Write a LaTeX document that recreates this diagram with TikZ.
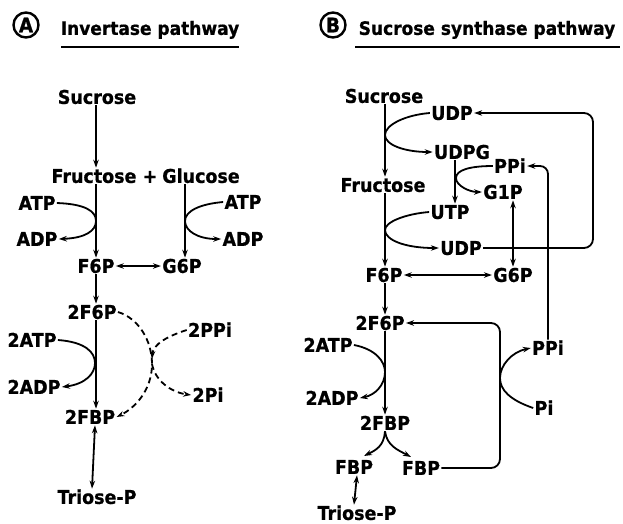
\documentclass[tikz,border=0pt]{standalone}
\usepackage{fontspec}
\setmainfont{DejaVu Sans}[BoldFeatures={FakeBold=0.8,FakeStretch=0.92}]
\usetikzlibrary{arrows.meta,calc}
\begin{document}
\begin{tikzpicture}[x=1pt,y=-1pt,
  lbl/.style={font=\bfseries\fontsize{19}{21}\selectfont, inner sep=1.2pt, text height=13.8pt, text depth=0pt},
  ttl/.style={lbl, font=\bfseries\fontsize{18.5}{21}\selectfont},
  circ/.style={circle, draw, line width=2.4pt, minimum size=25pt, inner sep=0pt, font=\bfseries\fontsize{20}{21}\selectfont},
  conn/.style={line width=1.8pt},
  arr/.style={conn,-{Stealth[length=8pt,width=5.5pt]}},
  darr/.style={conn,{Stealth[length=8pt,width=5.5pt]}-{Stealth[length=8pt,width=5.5pt]}},
  dsh/.style={arr, dash pattern=on 6pt off 4pt},
  uline/.style={line width=1.6pt}]
\useasboundingbox (0,0) rectangle (623,523);

% ---------------- Panel A ----------------
\node[circ] (cA) at (26,25) {A};
\node[ttl] (tA) at (150,28) {Invertase pathway};
\draw[uline] (61,47) -- (239,47);

\coordinate (xA) at (96,0);
\coordinate (xG) at (185,0);
\node[lbl] (sucA) at (97,97) {Sucrose};
\node[lbl] (fruA) at (94,176) {Fructose};
\node[lbl] (plusA) at (150,176) {+};
\node[lbl] (gluA) at (201,176) {Glucose};
\node[lbl] (atpA1) at (37,203) {ATP};
\node[lbl] (adpA1) at (37,239) {ADP};
\node[lbl] (atpA2) at (243,202) {ATP};
\node[lbl] (adpA2) at (243,239) {ADP};
\node[lbl] (f6pA) at (96,266) {F6P};
\node[lbl] (g6pA) at (182,266) {G6P};
\node[lbl] (2f6pA) at (92,312) {2F6P};
\node[lbl] (2atpA) at (32,340) {2ATP};
\node[lbl] (2adpA) at (34,387) {2ADP};
\node[lbl] (2fbpA) at (90,417) {2FBP};
\node[lbl] (2ppiA) at (210,330) {2PPi};
\node[lbl] (2piA) at (208,395) {2Pi};
\node[lbl] (trioseA) at (97,497) {Triose-P};
\coordinate (JA) at (152,364);

\draw[arr] (sucA.south -| xA) -- (fruA.north -| xA);
\draw[arr] (fruA.south -| xA) -- (f6pA.north -| xA);
\draw[arr] (gluA.south -| xG) -- (g6pA.north -| xG);
\draw[arr] (atpA1.east) .. controls (85,204) and (96,211) .. (96,221)
                         .. controls (96,231) and (85,238) .. (adpA1.east);
\draw[arr] (atpA2.west) .. controls (200,204) and (185,211) .. (185,221)
                         .. controls (185,231) and (198,239) .. (adpA2.west);
\draw[darr] (f6pA.east) -- (g6pA.west);
\draw[arr] (f6pA.south -| xA) -- (2f6pA.north -| xA);
\draw[arr] (2f6pA.south -| xA) -- (2fbpA.north -| xA);
\draw[arr] (2atpA.east) .. controls (85,342) and (95,352) .. (95,363)
                         .. controls (95,374) and (85,384) .. (2adpA.east);
\draw[dsh] (2f6pA.east) .. controls (138,318) and (152,340) .. (JA)
                         .. controls (152,390) and (135,408) .. (2fbpA.east);
\draw[dsh] (2ppiA.west) .. controls (168,336) and (153,344) .. (152,359);
\draw[dsh] (JA) .. controls (155,380) and (170,392) .. (2piA.west);
\draw[darr] ([xshift=5pt]2fbpA.south) -- ([xshift=-5pt]trioseA.north);

% ---------------- Panel B ----------------
\node[circ] (cB) at (333,25) {B};
\node[ttl] (tB) at (487,28) {Sucrose synthase pathway};
\draw[uline] (355,47) -- (620,47);

\coordinate (xB) at (385,0);
\coordinate (xU) at (455,0);
\node[lbl] (sucB) at (384,96) {Sucrose};
\node[lbl] (udp1) at (452,113) {UDP};
\node[lbl] (udpg) at (462,152) {UDPG};
\node[lbl] (ppi1) at (510,166) {PPi};
\node[lbl] (fruB) at (383,185) {Fructose};
\node[lbl] (g1p) at (503,192) {G1P};
\node[lbl] (utp) at (450,212) {UTP};
\node[lbl] (udp2) at (461,248) {UDP};
\node[lbl] (f6pB) at (384,275) {F6P};
\node[lbl] (g6pB) at (513,275) {G6P};
\node[lbl] (2f6pB) at (380,323) {2F6P};
\node[lbl] (2atpB) at (328,345) {2ATP};
\node[lbl] (ppi2) at (548,348) {PPi};
\node[lbl] (2adpB) at (332,398) {2ADP};
\node[lbl] (piB) at (544,408) {Pi};
\node[lbl] (2fbpB) at (385,423) {2FBP};
\node[lbl] (fbp1) at (354,467) {FBP};
\node[lbl] (fbp2) at (421,468) {FBP};
\node[lbl] (trioseB) at (357,513) {Triose-P};
\coordinate (rB) at (593,0);
\coordinate (rP) at (548,0);
\coordinate (rF) at (500,0);

\draw[arr] (sucB.south -| xB) -- (fruB.north -| xB);
\draw[arr] (udp1.west) .. controls (405,115) and (385,125) .. (385,135)
                        .. controls (385,145) and (405,152) .. (udpg.west);
\draw[arr] (udpg.south -| xU) -- (utp.north -| xU);
\draw[arr] (ppi1.west) .. controls (470,166) and (456,170) .. (456,178)
                        .. controls (456,186) and (470,192) .. (g1p.west);
\draw[arr] (fruB.south -| xB) -- (f6pB.north -| xB);
\draw[arr] (utp.west) .. controls (405,214) and (385,222) .. (385,230)
                       .. controls (385,240) and (405,248) .. (udp2.west);
\draw[arr, rounded corners=9pt] (udp2.east) -- (udp2.east -| rB) -- (udp1.east -| rB) -- (udp1.east);
\draw[arr, rounded corners=8pt] (ppi2.north -| rP) -- (ppi1.east -| rP) -- (ppi1.east);
\draw[darr] (g1p.south -| g6pB.north) -- (g6pB.north);
\draw[darr] (f6pB.east) -- (g6pB.west);
\draw[arr] (f6pB.south -| xB) -- (2f6pB.north -| xB);
\draw[arr] (2f6pB.south -| xB) -- (2fbpB.north -| xB);
\draw[arr] (2atpB.east) .. controls (375,349) and (385,361) .. (385,372)
                        .. controls (385,385) and (375,395) .. (2adpB.east);
\draw[arr, rounded corners=9pt] (fbp2.east) -- (fbp2.east -| rF) -- (2f6pB.east -| rF) -- (2f6pB.east);
\draw[arr] (piB.west) .. controls (510,400) and (500,390) .. (500,378)
                       .. controls (500,365) and (512,352) .. (ppi2.west);
\draw[arr] (2fbpB.south) .. controls (384,446) and (376,450) .. (364,456);
\draw[arr] (2fbpB.south) .. controls (387,446) and (398,450) .. (411,457);
\draw[darr] ([xshift=3pt]fbp1.south) -- ([xshift=-3pt]trioseB.north);
\end{tikzpicture}
\end{document}
